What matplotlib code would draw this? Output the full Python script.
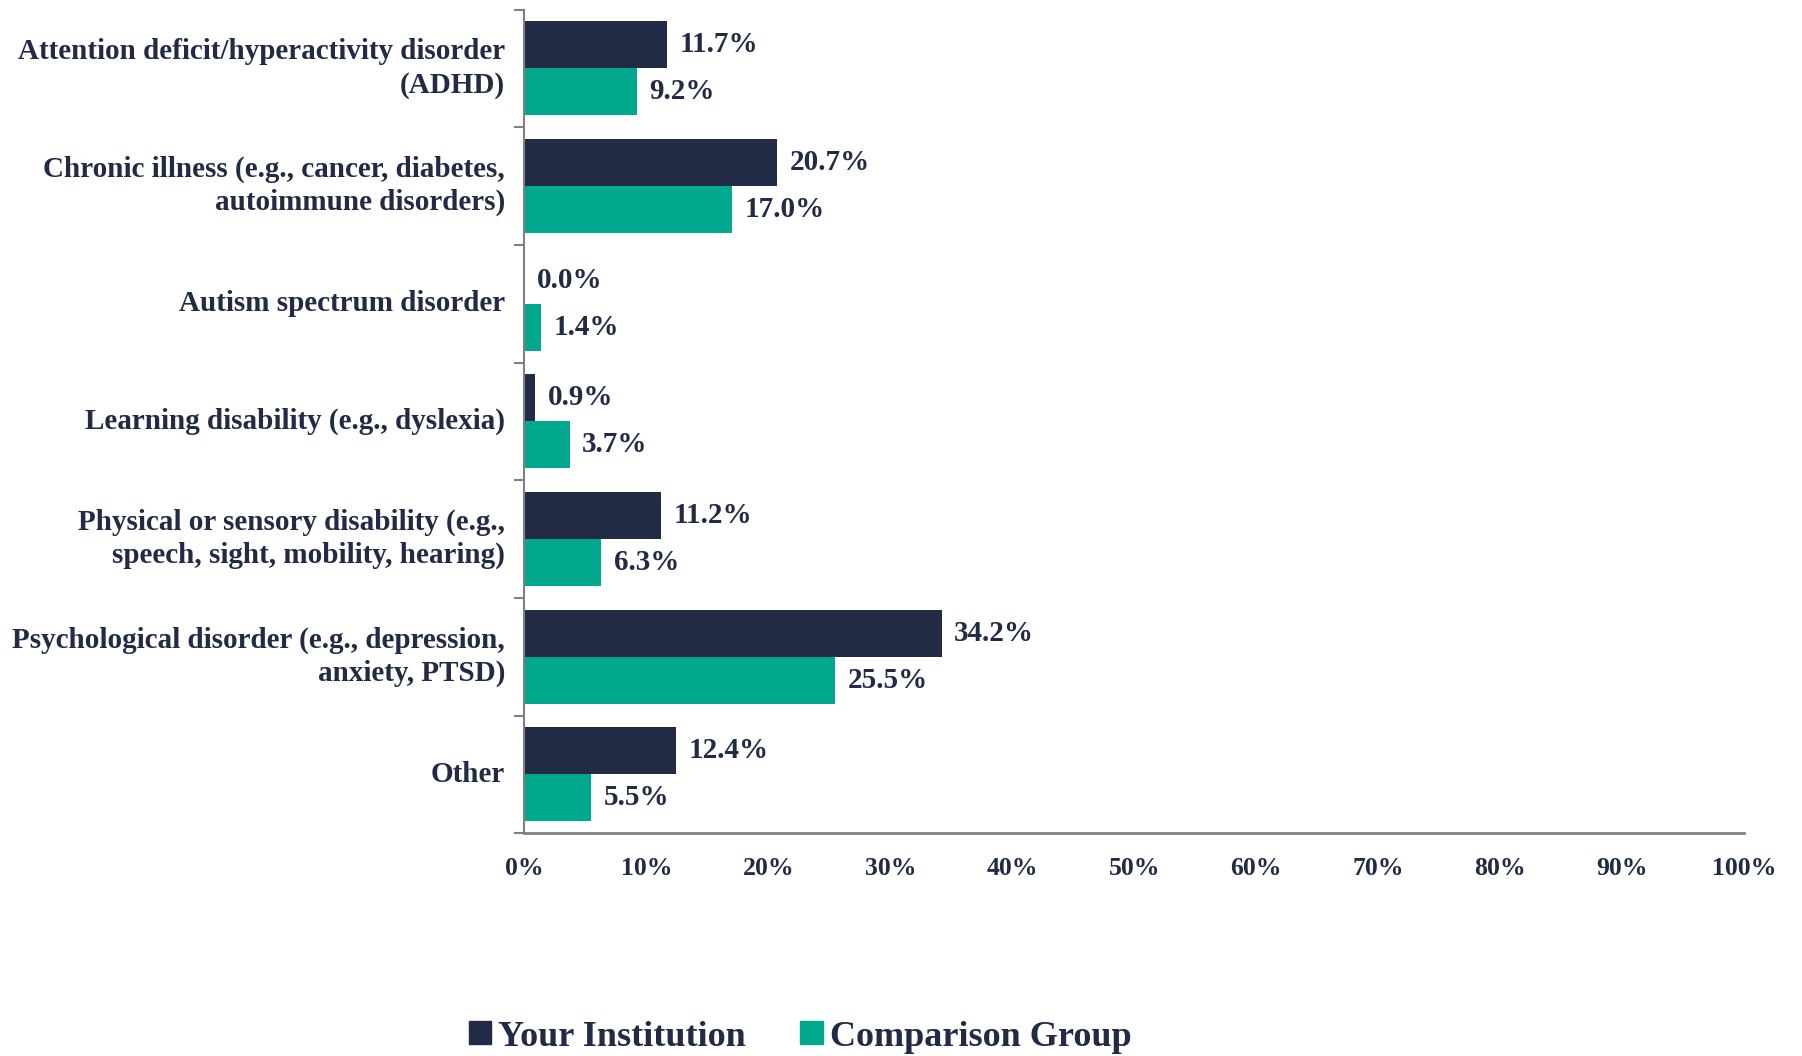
import numpy as np
import matplotlib
matplotlib.use('Agg')
import matplotlib.pyplot as plt
from matplotlib.patches import Patch

categories = ['Attention deficit/hyperactivity disorder\n(ADHD)',
              'Chronic illness (e.g., cancer, diabetes,\nautoimmune disorders)',
              'Autism spectrum disorder',
              'Learning disability (e.g., dyslexia)',
              'Physical or sensory disability (e.g.,\nspeech, sight, mobility, hearing)',
              'Psychological disorder (e.g., depression,\nanxiety, PTSD)',
              'Other']
your_institution = [11.7, 20.7, 0.0, 0.9, 11.2, 34.2, 12.4]
comparison_group = [9.2, 17.0, 1.4, 3.7, 6.3, 25.5, 5.5]
series_names = ['Your Institution', 'Comparison Group']
x_ticks = list(range(0, 101, 10))

navy = '#212B45'
teal = '#00A88E'
text_col = '#212B45'

plt.rcParams['font.family'] = ['Liberation Serif', 'DejaVu Serif']
plt.rcParams['font.weight'] = 'bold'

fig = plt.figure(figsize=(18.02, 10.56), dpi=100)
ax = fig.add_axes([0.291, 0.211, 0.677, 0.780])

n = len(categories)
y = np.arange(n)
h = 0.4
ax.barh(y - h / 2, your_institution, height=h, color=navy)
ax.barh(y + h / 2, comparison_group, height=h, color=teal)

for yi, v in zip(y, your_institution):
    ax.annotate(f'{v:.1f}%', (v, yi - h / 2), xytext=(9, 0),
                textcoords='offset points', va='center', ha='left',
                fontsize=21, fontweight='bold', color=text_col)
for yi, v in zip(y, comparison_group):
    ax.annotate(f'{v:.1f}%', (v, yi + h / 2), xytext=(9, 0),
                textcoords='offset points', va='center', ha='left',
                fontsize=21, fontweight='bold', color=text_col)

ax.set_xlim(0, 100)
ax.set_ylim(n - 0.5, -0.5)
ax.set_xticks(x_ticks)
ax.set_xticklabels([f'{t}%' for t in x_ticks])
ax.tick_params(axis='x', length=0, pad=17, labelsize=18.5, labelcolor=text_col)

ax.set_yticks(y)
ax.set_yticklabels(categories, fontsize=21, fontweight='bold', color=text_col,
                   linespacing=1.3, va='center')
ax.set_yticks(np.arange(-0.5, n, 1), minor=True)
ax.tick_params(axis='y', which='major', length=0, pad=14)
ax.tick_params(axis='y', which='minor', length=7, width=1.5, color='#808080')

for s in ['top', 'right']:
    ax.spines[s].set_visible(False)
ax.spines['left'].set_color('#808080')
ax.spines['left'].set_linewidth(1.5)
ax.spines['bottom'].set_color('#808080')
ax.spines['bottom'].set_linewidth(2)

handles = [Patch(color=navy), Patch(color=teal)]
leg = fig.legend(handles, series_names, loc='center',
                 bbox_to_anchor=(800 / 1802, 1 - 1037 / 1056), ncol=2,
                 frameon=False, fontsize=26, handlelength=0.62, handleheight=0.62,
                 handletextpad=0.2, columnspacing=1.5)
for t in leg.get_texts():
    t.set_color(text_col)
    t.set_fontweight('bold')

fig.savefig('out.png', dpi=100)
